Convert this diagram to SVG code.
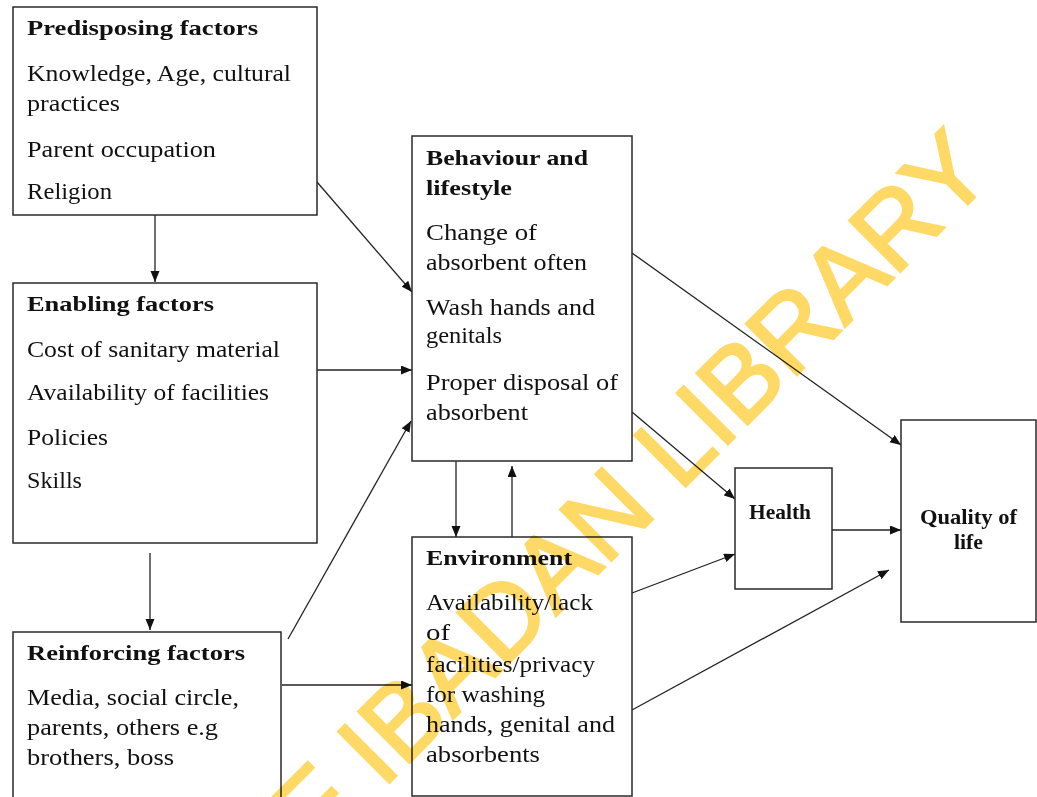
<svg xmlns="http://www.w3.org/2000/svg" width="1037" height="797" viewBox="0 0 1037 797">
<style>
.box{fill:#fff;stroke:#2a2a2a;stroke-width:1.5}
.t{font-family:"Liberation Serif","Times New Roman",serif;font-size:23.5px;fill:#111}
.h{font-family:"Liberation Serif","Times New Roman",serif;font-size:21.5px;font-weight:bold;fill:#111}
.c{stroke:#222;stroke-width:1.3;fill:none;marker-end:url(#ah)}
.wm{font-family:"Liberation Sans",Arial,sans-serif;font-size:105px;fill:#FFD966;stroke:#FFD966;stroke-width:2.5;mix-blend-mode:multiply}
</style>
<defs>
<marker id="ah" markerUnits="userSpaceOnUse" markerWidth="13" markerHeight="10" refX="11" refY="4.5" orient="auto">
<path d="M0,0 L11,4.5 L0,9 z" fill="#111"/>
</marker>
</defs>
<rect width="1037" height="797" fill="#fff"/>

<g id="connectors">
<line class="c" x1="155" y1="215" x2="155" y2="282"/>
<line class="c" x1="150" y1="553" x2="150" y2="630"/>
<line class="c" x1="317" y1="182" x2="412" y2="292"/>
<line class="c" x1="317" y1="370" x2="412" y2="370"/>
<line class="c" x1="288" y1="639" x2="411" y2="421"/>
<line class="c" x1="282" y1="685" x2="412" y2="685"/>
<line class="c" x1="456" y1="461" x2="456" y2="537"/>
<line class="c" x1="512" y1="537" x2="512" y2="466"/>
<line class="c" x1="632" y1="253" x2="901" y2="445"/>
<line class="c" x1="632" y1="412" x2="735" y2="499"/>
<line class="c" x1="632" y1="593" x2="735" y2="554"/>
<line class="c" x1="632" y1="710" x2="889" y2="570"/>
<line class="c" x1="832" y1="530" x2="901" y2="530"/>
</g>

<g id="predisposing">
<rect class="box" x="13" y="7" width="304" height="208"/>
<text class="h" x="27" y="35" textLength="231" lengthAdjust="spacingAndGlyphs">Predisposing factors</text>
<text class="t" x="27" y="81" textLength="264" lengthAdjust="spacingAndGlyphs">Knowledge, Age, cultural</text>
<text class="t" x="27" y="111" textLength="93" lengthAdjust="spacingAndGlyphs">practices</text>
<text class="t" x="27" y="157" textLength="189" lengthAdjust="spacingAndGlyphs">Parent occupation</text>
<text class="t" x="27" y="199" textLength="85" lengthAdjust="spacingAndGlyphs">Religion</text>
</g>

<g id="enabling">
<rect class="box" x="13" y="283" width="304" height="260"/>
<text class="h" x="27" y="311" textLength="187" lengthAdjust="spacingAndGlyphs">Enabling factors</text>
<text class="t" x="27" y="357" textLength="253" lengthAdjust="spacingAndGlyphs">Cost of sanitary  material</text>
<text class="t" x="27" y="400" textLength="242" lengthAdjust="spacingAndGlyphs">Availability  of facilities</text>
<text class="t" x="27" y="445" textLength="81" lengthAdjust="spacingAndGlyphs">Policies</text>
<text class="t" x="27" y="488" textLength="55" lengthAdjust="spacingAndGlyphs">Skills</text>
</g>

<g id="reinforcing">
<rect class="box" x="13" y="632" width="268" height="175"/>
<text class="h" x="27" y="660" textLength="218" lengthAdjust="spacingAndGlyphs">Reinforcing factors</text>
<text class="t" x="27" y="705" textLength="212" lengthAdjust="spacingAndGlyphs">Media,  social circle,</text>
<text class="t" x="27" y="735" textLength="191" lengthAdjust="spacingAndGlyphs">parents, others e.g</text>
<text class="t" x="27" y="765" textLength="147" lengthAdjust="spacingAndGlyphs">brothers, boss</text>
</g>

<g id="behaviour">
<rect class="box" x="412" y="136" width="220" height="325"/>
<text class="h" x="426" y="165" textLength="162" lengthAdjust="spacingAndGlyphs">Behaviour and</text>
<text class="h" x="426" y="195" textLength="86" lengthAdjust="spacingAndGlyphs">lifestyle</text>
<text class="t" x="426" y="240" textLength="111" lengthAdjust="spacingAndGlyphs">Change  of</text>
<text class="t" x="426" y="270" textLength="161" lengthAdjust="spacingAndGlyphs">absorbent often</text>
<text class="t" x="426" y="315" textLength="169" lengthAdjust="spacingAndGlyphs">Wash hands and</text>
<text class="t" x="426" y="343" textLength="76" lengthAdjust="spacingAndGlyphs">genitals</text>
<text class="t" x="426" y="390" textLength="192" lengthAdjust="spacingAndGlyphs">Proper disposal of</text>
<text class="t" x="426" y="420" textLength="102" lengthAdjust="spacingAndGlyphs">absorbent</text>
</g>

<g id="environment">
<rect class="box" x="412" y="537" width="220" height="259"/>
<text class="h" x="426" y="565" textLength="146" lengthAdjust="spacingAndGlyphs">Environment</text>
<text class="t" x="426" y="610" textLength="167" lengthAdjust="spacingAndGlyphs">Availability/lack</text>
<text class="t" x="426" y="640" textLength="24" lengthAdjust="spacingAndGlyphs">of</text>
<text class="t" x="426" y="672" textLength="169" lengthAdjust="spacingAndGlyphs">facilities/privacy</text>
<text class="t" x="426" y="702" textLength="119" lengthAdjust="spacingAndGlyphs">for washing</text>
<text class="t" x="426" y="732" textLength="189" lengthAdjust="spacingAndGlyphs">hands, genital  and</text>
<text class="t" x="426" y="762" textLength="114" lengthAdjust="spacingAndGlyphs">absorbents</text>
</g>

<g id="health">
<rect class="box" x="735" y="468" width="97" height="121"/>
<text class="h" x="749" y="519" font-size="19" textLength="62" lengthAdjust="spacingAndGlyphs">Health</text>
</g>

<g id="quality">
<rect class="box" x="901" y="420" width="135" height="202"/>
<text class="h" x="920" y="524" font-size="19" textLength="97" lengthAdjust="spacingAndGlyphs">Quality  of</text>
<text class="h" x="954" y="549" font-size="19" textLength="29" lengthAdjust="spacingAndGlyphs">life</text>
</g>

<g id="watermark">
<text class="wm" transform="translate(996,176) rotate(-45)" text-anchor="end">UNIVERSITY OF IBADAN LIBRARY</text>
</g>
</svg>
